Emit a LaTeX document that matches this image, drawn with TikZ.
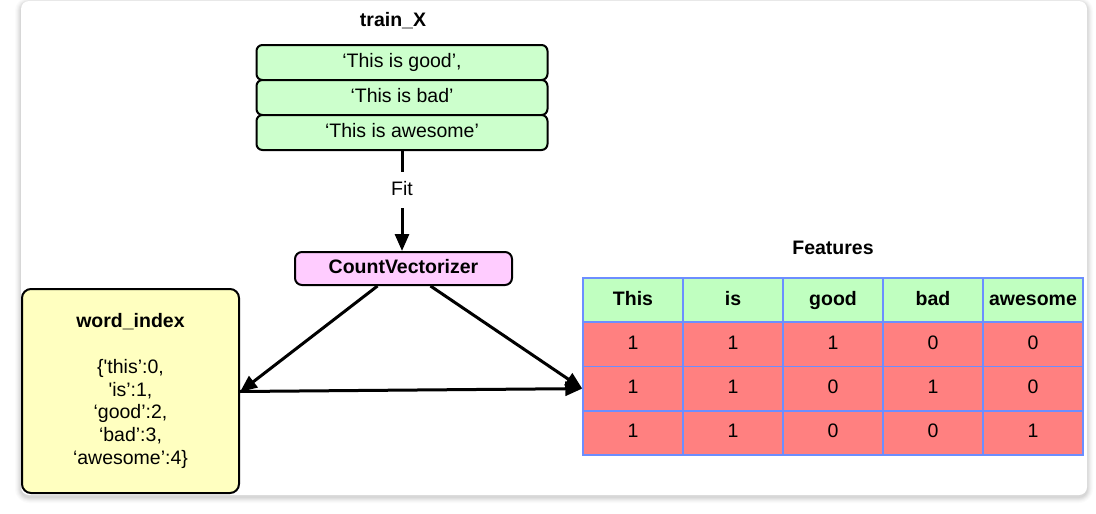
\documentclass[tikz,border=0pt]{standalone}
\usepackage{fontspec}
\setmainfont{Liberation Sans}
\usetikzlibrary{arrows.meta}
\definecolor{rowgreen}{HTML}{CCFFCC}
\definecolor{hdrgreen}{HTML}{C0FFC0}
\definecolor{cvpink}{HTML}{FFCCFF}
\definecolor{wiyellow}{HTML}{FFFFC0}
\definecolor{cellred}{HTML}{FF8080}
\definecolor{cellblue}{HTML}{6C8EFF}
\tikzset{
  regtext/.style={font=\fontsize{19.5}{23}\selectfont, text height=14pt, text depth=4pt},
  boldtext/.style={font=\fontsize{19.5}{23}\selectfont\bfseries, text height=14pt, text depth=4pt},
  rowbox/.style={draw=black, line width=2pt, rounded corners=6pt, fill=rowgreen,
    minimum width=291pt, minimum height=35pt, inner sep=0pt, regtext},
  cvbox/.style={draw=black, line width=2pt, rounded corners=7pt, fill=cvpink,
    minimum width=217pt, minimum height=33pt, inner sep=0pt, boldtext},
  wibox/.style={draw=black, line width=2pt, rounded corners=9pt, fill=wiyellow,
    minimum width=217pt, minimum height=204pt, inner sep=0pt, align=center,
    font=\fontsize{19.5}{22.8}\selectfont},
  hdrcell/.style={draw=cellblue, line width=1.5pt, fill=hdrgreen,
    minimum width=100pt, minimum height=44pt, inner sep=0pt, boldtext},
  bodycell/.style={draw=cellblue, line width=1.5pt, fill=cellred,
    minimum width=100pt, minimum height=44.3pt, inner sep=0pt, regtext},
  arr/.style={line width=3pt, -{Triangle[length=17pt,width=14pt]}},
  titletext/.style={boldtext, inner sep=0pt}
}
\begin{document}
\begin{tikzpicture}[x=1pt,y=-1pt]
\useasboundingbox (0,0) rectangle (1096,514);
% card with soft shadow
\foreach \i/\op in {6/0.015,5/0.02,4/0.025,3/0.03,2/0.035,1/0.04}{
  \fill[black, opacity=\op, rounded corners=8pt+\i pt] (21-\i,1-\i+2) rectangle (1087+\i,495+\i+2);
}
\fill[white, rounded corners=8pt] (21,1) rectangle (1087,495);

% train_X
\node[titletext] (trainx) at (393,21) {train\_X};
\node[rowbox] (tx1) at (402,62.5) {‘This is good’,};
\node[rowbox] (tx2) at (402,97.5) {‘This is bad’};
\node[rowbox] (tx3) at (402,132.5) {‘This is awesome’};

% CountVectorizer
\node[cvbox] (cv) at (403.5,268.5) {CountVectorizer};

% word_index
\node[wibox] (wi) at (130.5,391) {\textbf{word\_index}\\[22.8pt]
\{\textquotesingle this’:0,\\
\textquotesingle is’:1,\\
‘good’:2,\\
‘bad’:3,\\
‘awesome’:4\}};

% Features table
\node[titletext] (feat) at (833,249) {Features};
\foreach \name [count=\c] in {This,is,good,bad,awesome}{
  \node[hdrcell] (h-\c) at (633+100*\c-100,300) {\name};
}
\foreach \r/\vals in {1/{1,1,1,0,0},2/{1,1,0,1,0},3/{1,1,0,0,1}}{
  \foreach \v [count=\c] in \vals {
    \node[bodycell] (c-\r-\c) at (633+100*\c-100,300+44.3*\r) {\v};
  }
}

% connectors
\draw[arr] (tx3.south) -- node[pos=0.39, fill=white, regtext, inner sep=0pt, minimum height=36pt, minimum width=30pt] (fit) {Fit} (tx3.south |- cv.north);
\draw[arr] ([xshift=-26pt]cv.south) -- ([yshift=-1pt]wi.east);
\draw[arr] ([xshift=27pt]cv.south) -- (c-2-1.west);
\draw[arr] ([yshift=-0.5pt]wi.east) -- (c-2-1.west);
\end{tikzpicture}
\end{document}
